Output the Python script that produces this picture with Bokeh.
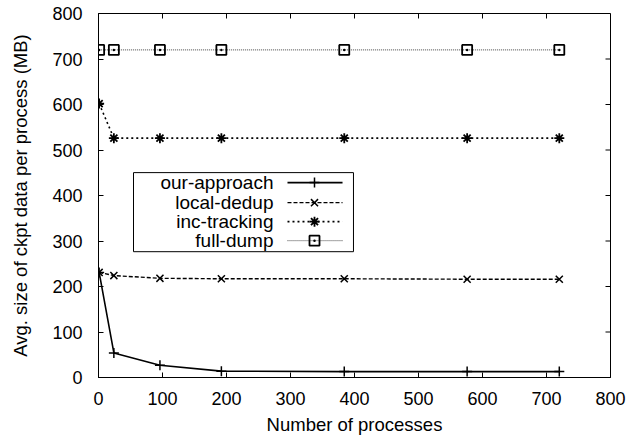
from bokeh.plotting import figure
from bokeh.models import Range1d, SingleIntervalTicker
from bokeh.core.properties import value
from bokeh.embed import file_html
from bokeh.resources import INLINE

# ---- data ----
processes = [1, 24, 96, 192, 384, 576, 720]
our_approach = [231, 54, 27, 14, 13, 13, 13]
local_dedup = [231, 224, 218, 217, 217, 216, 216]
inc_tracking = [602, 526, 526, 526, 526, 526, 526]
full_dump = [720, 720, 720, 720, 720, 720, 720]
series_names = ["our-approach", "local-dedup", "inc-tracking", "full-dump"]
x_ticks = [0, 100, 200, 300, 400, 500, 600, 700, 800]
y_ticks = [0, 100, 200, 300, 400, 500, 600, 700, 800]

FONT = "Liberation Sans"
W, H = 630, 438
BL, BR, BT, BB = 98, 20, 13, 61
X0, X1, Y0, Y1 = 0, 800, 0, 800
TICK = 5  # px

p = figure(width=W, height=H, output_backend="svg", toolbar_location=None,
           x_range=Range1d(X0, X1), y_range=Range1d(Y0, Y1),
           min_border_left=BL, min_border_right=BR, min_border_top=BT, min_border_bottom=BB)
p.background_fill_color = "white"
p.border_fill_color = "white"
p.outline_line_color = "black"
p.outline_line_width = 1
p.xgrid.visible = False
p.ygrid.visible = False

p.xaxis.ticker = SingleIntervalTicker(interval=100)
p.yaxis.ticker = SingleIntervalTicker(interval=100)
for ax in (p.xaxis, p.yaxis):
    ax.major_tick_in = TICK
    ax.major_tick_out = 0
    ax.minor_tick_line_color = None
    ax.axis_line_color = "black"
    ax.major_tick_line_color = "black"
    ax.major_label_text_font = FONT
    ax.major_label_text_font_size = "18px"
    ax.major_label_text_color = "black"
    ax.axis_label_text_font = FONT
    ax.axis_label_text_font_size = "18.5px"
    ax.axis_label_text_font_style = "normal"
    ax.axis_label_text_color = "black"

p.xaxis.axis_label = "Number of processes"
p.yaxis.axis_label = "Avg. size of ckpt data per process (MB)"
p.xaxis.major_label_standoff = 10
p.xaxis.axis_label_standoff = 6
p.yaxis.major_label_standoff = 12
p.yaxis.axis_label_standoff = 18

# mirrored inward ticks on top and right (tick length converted from px to data units)
fw, fh = W - BL - BR, H - BT - BB
dx = TICK * (X1 - X0) / fw
dy = TICK * (Y1 - Y0) / fh
p.segment(x0=x_ticks, x1=x_ticks, y0=[Y1] * len(x_ticks), y1=[Y1 - dy] * len(x_ticks),
          line_color="black", line_width=1)
p.segment(x0=[X1] * len(y_ticks), x1=[X1 - dx] * len(y_ticks), y0=y_ticks, y1=y_ticks,
          line_color="black", line_width=1)

# ---- series ----
styles = [
    dict(dash="solid", width=1.6, color="black", marker="cross", mw=1.5),
    dict(dash="4 2", width=1.4, color="black", marker="x", mw=1.5),
    dict(dash="2 3", width=1.6, color="black", marker="asterisk", mw=1.8),
    dict(dash="1 1", width=1.0, color="#444444", marker="square_dot", mw=1.8),
]
series = [our_approach, local_dedup, inc_tracking, full_dump]
for ys, st in zip(series, styles):
    p.line(processes, ys, line_color=st["color"], line_width=st["width"], line_dash=st["dash"])
    p.scatter(processes, ys, marker=st["marker"], size=10, line_color="black",
              fill_color=None, line_width=st["mw"])

# ---- custom gnuplot-style legend (text right, sample on the right) ----
box_l, box_r, box_t, box_b = 54.7, 398.4, 450.3, 276.5
row_y = [428.3, 384.3, 342.5, 300.7]
text_x = 273.4
samp_x0, samp_x1, samp_xm = 295.3, 381.3, 337.5

p.quad(left=[box_l], right=[box_r], top=[box_t], bottom=[box_b],
       fill_color="white", line_color="black", line_width=1)
p.text(x=[text_x] * 4, y=row_y, text=series_names, text_align="right",
       text_baseline="middle", text_font=value(FONT), text_font_size="19px",
       text_color="black")
for yy, st in zip(row_y, styles):
    p.line([samp_x0, samp_x1], [yy, yy], line_color=st["color"], line_width=st["width"],
           line_dash=st["dash"])
    p.scatter([samp_xm], [yy], marker=st["marker"], size=10, line_color="black",
              fill_color=None, line_width=st["mw"])

open("out.html", "w").write(file_html(p, INLINE))
